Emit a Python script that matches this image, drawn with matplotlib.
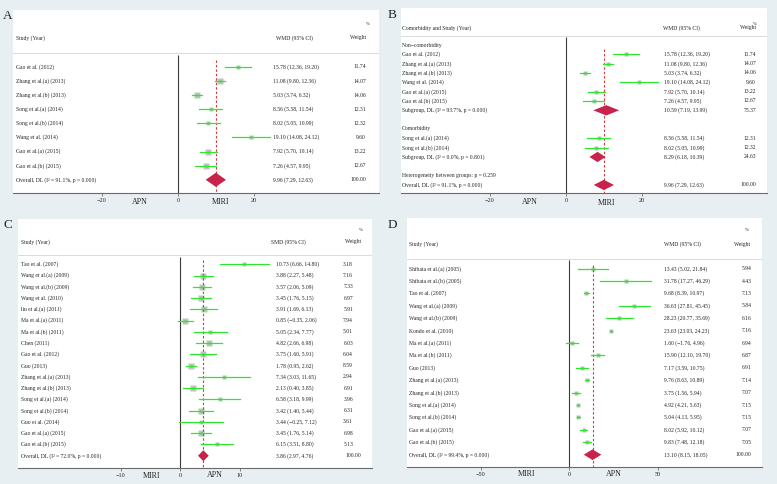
import numpy as np
import matplotlib.pyplot as plt
from matplotlib.patches import Polygon

plt.rcParams['font.family'] = ['Liberation Serif', 'DejaVu Serif']
plt.rcParams['axes.unicode_minus'] = True

W, H = 777, 484
BG = '#e8eff3'
TXT = '#262626'
GREEN = '#2ee62e'
BOX = '#c2c2c2'
RED = '#d23c3c'
DIAM = '#c8234a'

# ---- panel A : APN, WMD ----
studiesA = ["Gao et al. (2012)", "Zhang et al.(a) (2013)", "Zhang et al.(b) (2013)",
            "Song et al.(a) (2014)", "Song et al.(b) (2014)", "Wang et al. (2014)",
            "Gao et al.(a) (2015)", "Gao et al.(b) (2015)"]
estA = [15.78, 11.08, 5.03, 8.56, 8.02, 19.10, 7.92, 7.26]
loA = [12.36, 9.80, 3.74, 5.58, 5.05, 14.08, 5.70, 4.57]
hiA = [19.20, 12.36, 6.32, 11.54, 10.99, 24.12, 10.14, 9.95]
wA = [11.74, 14.07, 14.06, 12.31, 12.32, 9.60, 13.22, 12.67]
overallA = (9.96, 7.29, 12.63)
overallA_label = "Overall, DL (I² = 91.1%, p = 0.000)"

# ---- panel B : subgroups by comorbidity ----
groupB1 = "Non−comorbidity"
studiesB1 = ["Gao et al. (2012)", "Zhang et al.(a) (2013)", "Zhang et al.(b) (2013)",
             "Wang et al. (2014)", "Gao et al.(a) (2015)", "Gao et al.(b) (2015)"]
estB1 = [15.78, 11.08, 5.03, 19.10, 7.92, 7.26]
loB1 = [12.36, 9.80, 3.74, 14.08, 5.70, 4.57]
hiB1 = [19.20, 12.36, 6.32, 24.12, 10.14, 9.95]
wB1 = [11.74, 14.07, 14.06, 9.60, 13.22, 12.67]
subB1 = (10.59, 7.19, 13.99, 75.37)
subB1_label = "Subgroup, DL (I² = 93.7%, p = 0.000)"
groupB2 = "Comorbidity"
studiesB2 = ["Song et al.(a) (2014)", "Song et al.(b) (2014)"]
estB2 = [8.56, 8.02]
loB2 = [5.58, 5.05]
hiB2 = [11.54, 10.99]
wB2 = [12.31, 12.32]
subB2 = (8.29, 6.18, 10.39, 24.63)
subB2_label = "Subgroup, DL (I² = 0.0%, p = 0.801)"
hetB = "Heterogeneity between groups: p = 0.259"
overallB = (9.96, 7.29, 12.63)
overallB_label = "Overall, DL (I² = 91.1%, p = 0.000)"

# ---- panel C : MIRI vs APN, SMD ----
studiesC = ["Tao et al. (2007)", "Wang et al.(a) (2009)", "Wang et al.(b) (2009)",
            "Wang et al. (2010)", "liu et al.(a) (2011)", "Ma et al.(a) (2011)",
            "Ma et al.(b) (2011)", "Chen (2011)", "Gao et al. (2012)", "Guo (2013)",
            "Zhang et al.(a) (2013)", "Zhang et al.(b) (2013)", "Song et al.(a) (2014)",
            "Song et al.(b) (2014)", "Guo et al. (2014)", "Gao et al.(a) (2015)",
            "Gao et al.(b) (2015)"]
estC = [10.73, 3.88, 3.57, 3.45, 3.91, 0.85, 5.05, 4.82, 3.75, 1.78, 7.34, 2.13,
        6.58, 3.42, 3.44, 3.45, 6.15]
loC = [6.66, 2.27, 2.06, 1.76, 1.69, -0.35, 2.34, 2.66, 1.60, 0.95, 3.03, 0.40,
       3.18, 1.40, -0.25, 1.76, 3.51]
hiC = [14.80, 5.48, 5.09, 5.15, 6.13, 2.06, 7.77, 6.98, 5.91, 2.62, 11.65, 3.85,
       9.99, 5.44, 7.12, 5.14, 8.80]
wC = [3.18, 7.16, 7.33, 6.97, 5.91, 7.94, 5.01, 6.03, 6.04, 8.59, 2.94, 6.91,
      3.96, 6.31, 3.61, 6.98, 5.13]
overallC = (3.86, 2.97, 4.76)
overallC_label = "Overall, DL (I² = 72.0%, p = 0.000)"

# ---- panel D : MIRI vs APN, WMD ----
studiesD = ["Shibata et al.(a) (2005)", "Shibata et al.(b) (2005)", "Tao et al. (2007)",
            "Wang et al.(a) (2009)", "Wang et al.(b) (2009)", "Kondo et al. (2010)",
            "Ma et al.(a) (2011)", "Ma et al.(b) (2011)", "Guo (2013)",
            "Zhang et al.(a) (2013)", "Zhang et al.(b) (2013)", "Song et al.(a) (2014)",
            "Song et al.(b) (2014)", "Gao et al.(a) (2015)", "Gao et al.(b) (2015)"]
estD = [13.43, 31.78, 9.68, 36.63, 28.23, 23.63, 1.60, 15.90, 7.17, 9.76, 3.75,
        4.92, 5.04, 8.02, 9.83]
loD = [5.02, 17.27, 8.39, 27.81, 20.77, 23.03, -1.76, 12.10, 3.59, 8.63, 1.56,
       4.21, 4.13, 5.92, 7.48]
hiD = [21.84, 46.29, 10.97, 45.45, 35.69, 24.23, 4.96, 19.70, 10.75, 10.89, 5.94,
       5.63, 5.95, 10.12, 12.18]
wD = [5.94, 4.43, 7.13, 5.84, 6.16, 7.16, 6.94, 6.87, 6.91, 7.14, 7.07, 7.15,
      7.15, 7.07, 7.05]
overallD = (13.10, 8.15, 18.05)
overallD_label = "Overall, DL (I² = 99.4%, p = 0.000)"

FS = 4.1

fig = plt.figure(figsize=(W / 100, H / 100), dpi=100, facecolor=BG)


def fmt_ci(e, lo, hi):
    f = lambda v: ("%.2f" % v).replace('-', '−')
    return "%s (%s, %s)" % (f(e), f(lo), f(hi))


def make_panel(box, zero_px, unit_px, row0_px, row_px, ticks):
    L, T, R, B = box
    ax = fig.add_axes([L / W, 1 - B / H, (R - L) / W, (B - T) / H])
    ax.set_facecolor('white')
    ax.set_xlim((L - zero_px) / unit_px, (R - zero_px) / unit_px)
    ax.set_ylim((B - row0_px) / row_px, (T - row0_px) / row_px)
    for s in ['top', 'left', 'right']:
        ax.spines[s].set_visible(False)
    ax.spines['bottom'].set_color('#6a6a6a')
    ax.spines['bottom'].set_linewidth(0.8)
    ax.set_yticks([])
    ax.set_xticks(ticks)
    ax.tick_params(axis='x', length=2.5, width=0.5, color='#555555',
                   labelsize=4.5, labelcolor=TXT, pad=1)
    colx = lambda px: (px - L) / (R - L)
    rowy = lambda py: (py - row0_px) / row_px
    return ax, colx, rowy


def study_row(ax, y, e, lo, hi, ms):
    ax.plot(e, y, 's', ms=ms, color=BOX, mec='none', zorder=2)
    ax.plot([lo, hi], [y, y], color=GREEN, lw=0.9, zorder=3)
    ax.plot(e, y, 's', ms=2.0, color=GREEN, mec='none', zorder=4)


def diamond(ax, y, e, lo, hi, h):
    ax.add_patch(Polygon([(lo, y), (e, y - h), (hi, y), (e, y + h)],
                         closed=True, fc=DIAM, ec='none', zorder=4))


def put(ax, x, y, s, ha='left', size=FS):
    ax.text(x, y, s, transform=ax.get_yaxis_transform(), ha=ha, va='center',
            fontsize=size, color=TXT)


def header(ax, colx, rowy, first, eff, y_hd, y_pct, x_study, x_eff, x_wt, x_pct, y_sep):
    put(ax, colx(x_study), rowy(y_hd), first)
    put(ax, colx(x_eff), rowy(y_hd), eff)
    put(ax, colx(x_wt), rowy(y_hd), "Weight", ha='center')
    put(ax, colx(x_pct), rowy(y_pct), "%", ha='center', size=3.6)
    ax.axhline(rowy(y_sep), color='#d4d4d4', lw=0.6)


def simple_forest(box, zero_px, unit_px, row0_px, row_px, ticks, names, est, lo, hi, wt,
                  overall, overall_label, eff, cols, hdr_y, line_tops, box_max, dia_h,
                  wt_over_px=None):
    ax, colx, rowy = make_panel(box, zero_px, unit_px, row0_px, row_px, ticks)
    x_study, x_eff_hd, x_eff, x_wt, x_wt_hd, x_pct = cols
    y_hd, y_pct, y_sep = hdr_y
    header(ax, colx, rowy, "Study (Year)", eff, y_hd, y_pct, x_study, x_eff_hd,
           x_wt_hd, x_pct, y_sep)
    wmax = max(wt)
    for i, n in enumerate(names):
        study_row(ax, i, est[i], lo[i], hi[i], box_max * np.sqrt(wt[i] / wmax))
        put(ax, colx(x_study), i, n)
        put(ax, colx(x_eff), i, fmt_ci(est[i], lo[i], hi[i]))
        put(ax, colx(x_wt), i, "%.2f" % wt[i], ha='right')
    k = len(names)
    e, l, h = overall
    diamond(ax, k, e, l, h, dia_h)
    put(ax, colx(x_study), k, overall_label)
    put(ax, colx(x_eff), k, fmt_ci(e, l, h))
    put(ax, colx(wt_over_px if wt_over_px else x_wt), k, "100.00", ha='right')
    ybot = ax.get_ylim()[0]
    ax.vlines(0, rowy(line_tops[0]), ybot, color='#3a3a3a', lw=0.8)
    ax.vlines(e, rowy(line_tops[1]), ybot, color=RED, lw=0.8, linestyles=(0, (2.2, 1.8)))
    return ax


# A
simple_forest((13, 10, 379, 193), 178, 3.8, 67, 14.1, [-20, 0, 20],
              studiesA, estA, loA, hiA, wA, overallA, overallA_label, "WMD (95% CI)",
              (16, 276, 272.7, 366, 358, 368), (38, 24, 53), (55, 60), 3.8, 0.5)

# C
simple_forest((18, 219, 372, 468), 180.3, 5.97, 264.3, 11.26, [-10, 0, 10],
              studiesC, estC, loC, hiC, wC, overallC, overallC_label, "SMD (95% CI)",
              (21, 271, 276, 353, 352.7, 361), (241.7, 230, 255), (256.7, 260), 4.6, 0.49,
              wt_over_px=361)

# D
simple_forest((407, 218, 762, 467), 569.3, 1.774, 268.7, 12.4, [-50, 0, 50],
              studiesD, estD, loD, hiD, wD, overallD, overallD_label, "WMD (95% CI)",
              (409, 664, 664, 751.7, 742.3, 746.7), (244.3, 230, 259), (260, 265), 3.4, 0.43)

# B
ax, colx, rowy = make_panel((401, 8, 767, 193), 566, 3.8, 45, 9.33, [-20, 0, 20])
header(ax, colx, rowy, "Comorbidity and Study (Year)", "WMD (95% CI)", 27.7, 24,
       402, 663.3, 748.3, 755, 36)
xs, xe, xw = colx(402), colx(664.3), colx(756)
row = 0
for grp, names, est, lo, hi, wt, sub, sublab in [
        (groupB1, studiesB1, estB1, loB1, hiB1, wB1, subB1, subB1_label),
        (groupB2, studiesB2, estB2, loB2, hiB2, wB2, subB2, subB2_label)]:
    put(ax, xs, row, grp)
    row += 1
    for i, n in enumerate(names):
        study_row(ax, row, est[i], lo[i], hi[i], 3.2 * np.sqrt(wt[i] / max(wB1 + wB2)))
        put(ax, xs, row, n)
        put(ax, xe, row, fmt_ci(est[i], lo[i], hi[i]))
        put(ax, xw, row, "%.2f" % wt[i], ha='right')
        row += 1
    diamond(ax, row, sub[0], sub[1], sub[2], 0.55)
    put(ax, xs, row, sublab)
    put(ax, xe, row, fmt_ci(*sub[:3]))
    put(ax, xw, row, "%.2f" % sub[3], ha='right')
    row += 2
put(ax, xs, row, hetB)
row += 1
diamond(ax, row, *overallB, 0.55)
put(ax, xs, row, overallB_label)
put(ax, xe, row, fmt_ci(*overallB))
put(ax, xw, row, "100.00", ha='right')
ybot = ax.get_ylim()[0]
ax.vlines(0, rowy(37), ybot, color='#3a3a3a', lw=0.8)
ax.vlines(overallB[0], rowy(49), ybot, color=RED, lw=0.8, linestyles=(0, (2.2, 1.8)))

# side labels and panel letters (pixel positions)
def ftext(x, y, s, size):
    fig.text(x / W, 1 - y / H, s, ha='center', va='center', fontsize=size, color=TXT)

for x, y, s in [(140, 202, "APN"), (221, 202, "MIRI"), (530, 202, "APN"), (607, 203, "MIRI"),
                (152, 476, "MIRI"), (215, 475, "APN"), (527, 474, "MIRI"), (614, 474, "APN")]:
    ftext(x, y, s, 5.8)
for x, y, s in [(8, 16, "A"), (392, 14.5, "B"), (8, 225, "C"), (392, 225, "D")]:
    ftext(x, y, s, 9.5)

fig.savefig("out.png", dpi=100, facecolor=BG)
